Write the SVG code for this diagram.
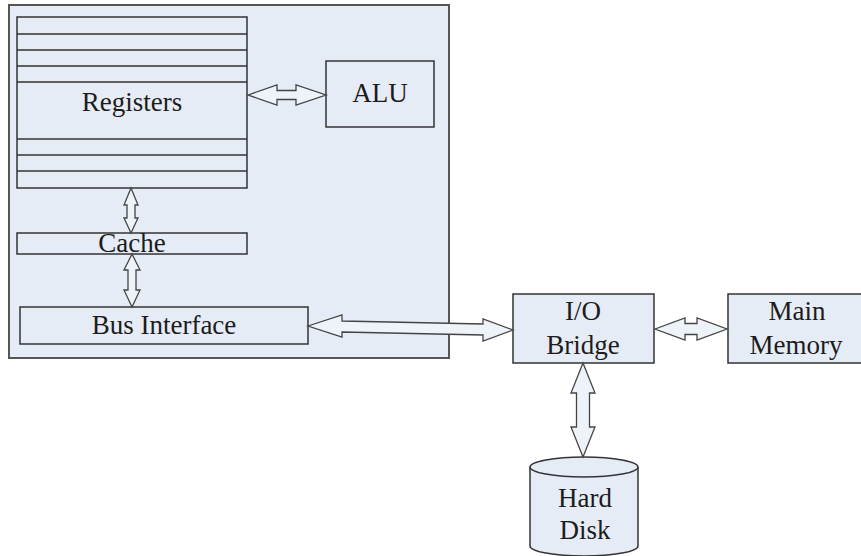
<svg xmlns="http://www.w3.org/2000/svg" width="861" height="556" viewBox="0 0 861 556">
  <style>
    .box { fill: #e6ecf6; stroke: #333; stroke-width: 1.5; }
    .cpu { fill: #e6ecf6; stroke: #555; stroke-width: 2; }
    .line { stroke: #333; stroke-width: 1.5; fill: none; }
    .arrow { fill: #eef2f9; stroke: #444; stroke-width: 1.3; stroke-linejoin: miter; }
    .lbl { font-family: "Liberation Serif", "DejaVu Serif", serif; font-size: 27px; fill: #1c1c1c; text-anchor: middle; }
  </style>
  <rect width="861" height="556" fill="#ffffff"/>

  <!-- CPU chip -->
  <g id="cpu">
    <rect class="cpu" x="9" y="5" width="440" height="353"/>
  </g>

  <!-- register file -->
  <g id="registers">
    <rect class="box" x="17" y="17" width="230" height="171"/>
    <path class="line" d="M17 34H247M17 50H247M17 66H247M17 82H247M17 139H247M17 155H247M17 171H247"/>
    <text class="lbl" x="132" y="111">Registers</text>
  </g>

  <g id="alu">
    <rect class="box" x="326" y="61" width="108" height="66"/>
    <text class="lbl" x="380" y="102">ALU</text>
  </g>

  <g id="cache">
    <rect class="box" x="17" y="233" width="230" height="21"/>
    <text class="lbl" x="132" y="252">Cache</text>
  </g>

  <g id="bus-interface">
    <rect class="box" x="20" y="307" width="288" height="37"/>
    <text class="lbl" x="164" y="334">Bus Interface</text>
  </g>

  <g id="io-bridge">
    <rect class="box" x="513" y="294" width="141" height="69"/>
    <text class="lbl" x="583" y="320">I/O</text>
    <text class="lbl" x="583" y="354">Bridge</text>
  </g>

  <g id="main-memory">
    <rect class="box" x="728" y="294" width="140" height="69"/>
    <text class="lbl" x="797" y="320">Main</text>
    <text class="lbl" x="796" y="354">Memory</text>
  </g>

  <g id="hard-disk">
    <path class="box" d="M530 467V546A54 10 0 0 0 638 546V467"/>
    <ellipse class="box" cx="584" cy="467" rx="54" ry="10"/>
    <text class="lbl" x="585" y="507">Hard</text>
    <text class="lbl" x="585" y="539">Disk</text>
  </g>

  <!-- bidirectional block arrows -->
  <g id="connectors">
    <!-- registers <-> ALU -->
    <polygon class="arrow" points="248,95 277,85 277,90.5 296,90.5 296,85 326,95 296,105 296,99.5 277,99.5 277,105"/>
    <!-- registers <-> cache -->
    <polygon class="arrow" points="131,188 138,205 135,205 135,218 138,218 131,233 124,218 127,218 127,205 124,205"/>
    <!-- cache <-> bus interface -->
    <polygon class="arrow" points="132,254 140,270 136,270 136,290 140,290 132,307 124,290 128,290 128,270 124,270"/>
    <!-- bus interface <-> I/O bridge -->
    <polygon class="arrow" points="308,326 342,315 342,321 483,324 483,319 513,330 483,341 483,335 342,332 342,337"/>
    <!-- I/O bridge <-> main memory -->
    <polygon class="arrow" points="655,329 685,318 685,323.5 697,323.5 697,318 727,329 697,340 697,334.5 685,334.5 685,340"/>
    <!-- I/O bridge <-> hard disk -->
    <polygon class="arrow" points="583,363 595,393 589.5,393 589.5,427 595,427 583,457 571,427 576.5,427 576.5,393 571,393"/>
  </g>
</svg>
